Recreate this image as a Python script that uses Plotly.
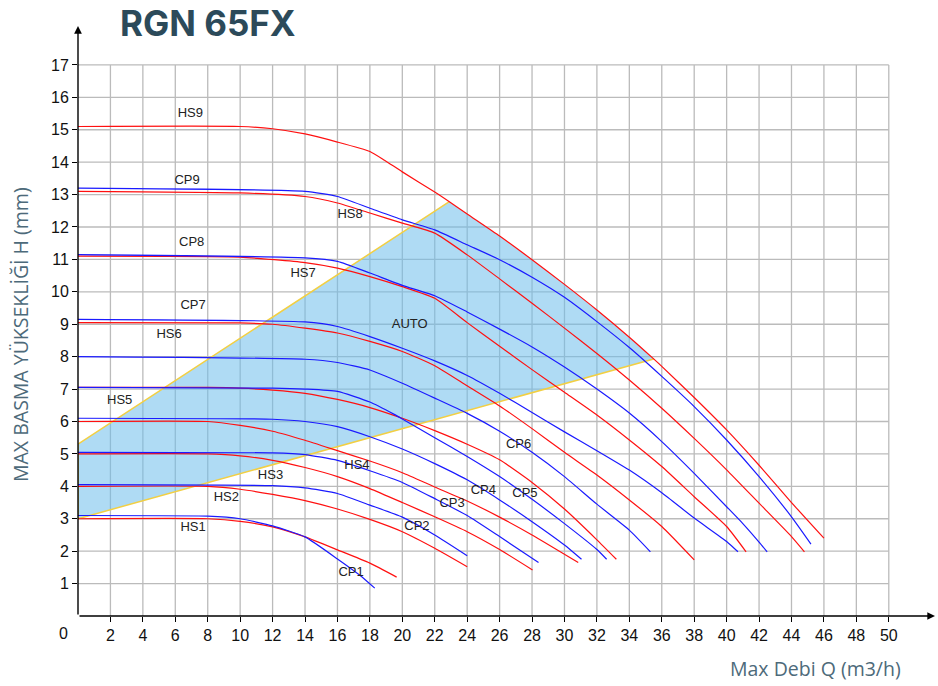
import plotly.graph_objects as go

# ---------------- data (Q in m3/h, H in m) ----------------
HS1_Q = [0, 8, 10, 12, 14, 16, 18, 19.65]
HS1_H = [3.0, 3.0, 2.92, 2.75, 2.44, 2.04, 1.63, 1.2]
CP1_Q = [0, 8, 10, 12, 14, 16, 17.4, 18.3]
CP1_H = [3.1, 3.08, 3.0, 2.78, 2.44, 1.76, 1.25, 0.86]

HS2_Q = [0, 8, 10, 12, 14, 16, 18, 20, 22, 24]
HS2_H = [4.0, 4.0, 3.91, 3.75, 3.56, 3.3, 2.98, 2.6, 2.09, 1.52]
CP2_Q = [0, 12, 14, 16, 18, 20, 22, 24]
CP2_H = [4.05, 4.02, 3.95, 3.78, 3.42, 3.05, 2.5, 1.86]

HS3_Q = [0, 8, 10, 12, 14, 16, 18, 20, 22, 24, 26, 28.03]
HS3_H = [5.0, 5.0, 4.94, 4.8, 4.58, 4.3, 3.93, 3.5, 3.06, 2.6, 2.05, 1.42]
CP3_Q = [0, 12, 14, 16, 18, 20, 22, 24, 26, 28.4]
CP3_H = [5.05, 5.03, 4.98, 4.8, 4.48, 4.12, 3.62, 3.1, 2.45, 1.65]

HS4_Q = [0, 8, 10, 12, 14, 16, 18, 20, 22, 24, 26, 28, 30.85]
HS4_H = [6.0, 6.0, 5.88, 5.7, 5.42, 5.1, 4.78, 4.42, 3.98, 3.55, 3.05, 2.5, 1.65]
CP4_Q = [0, 12, 14, 16, 18, 20, 22, 24, 26, 28, 30, 31.05]
CP4_H = [6.1, 6.07, 6.0, 5.84, 5.53, 5.15, 4.7, 4.2, 3.58, 2.91, 2.19, 1.75]

HS5_Q = [0, 8, 10, 12, 14, 16, 18, 20, 22, 24, 26, 28, 30, 32, 33.2]
HS5_H = [7.05, 7.05, 7.03, 6.97, 6.87, 6.68, 6.43, 6.1, 5.72, 5.3, 4.82, 4.12, 3.3, 2.35, 1.75]
CP5_Q = [0, 12, 14, 16, 18, 19.5, 20, 22, 24, 26, 28, 30, 32, 32.6]
CP5_H = [7.05, 7.03, 7.0, 6.93, 6.6, 6.22, 6.08, 5.5, 4.92, 4.3, 3.6, 2.85, 2.05, 1.75]

CP6_Q = [0, 14, 16, 18, 20, 22, 24, 26, 28, 30, 32, 34, 35.3]
CP6_H = [8.0, 7.92, 7.82, 7.59, 7.18, 6.72, 6.25, 5.7, 5.05, 4.3, 3.45, 2.65, 1.98]

HS6_Q = [0, 10, 12, 14, 16, 18, 20, 22, 24, 26, 28, 30, 32, 34, 36, 38]
HS6_H = [9.05, 9.04, 9.0, 8.88, 8.73, 8.47, 8.16, 7.72, 7.1, 6.48, 5.78, 5.05, 4.35, 3.58, 2.76, 1.73]
CP7_Q = [0, 14, 16, 18, 20, 22, 24, 26, 28, 30, 32, 34, 36, 38, 40, 40.7]
CP7_H = [9.15, 9.07, 8.93, 8.62, 8.26, 7.87, 7.42, 6.87, 6.28, 5.68, 5.1, 4.5, 3.8, 3.02, 2.3, 1.98]

HS7_Q = [0, 10, 14, 16, 18, 20, 22, 24, 26, 28, 30, 32, 34, 36, 38, 40, 41.2]
HS7_H = [11.1, 11.07, 10.9, 10.73, 10.47, 10.16, 9.8, 9.05, 8.32, 7.6, 6.9, 6.2, 5.43, 4.61, 3.68, 2.76, 1.98]
CP8_Q = [0, 14, 16, 18, 20, 22, 24, 26, 28, 30, 32, 34, 36, 38, 40, 41, 42, 42.5]
CP8_H = [11.15, 11.05, 10.94, 10.58, 10.2, 9.88, 9.38, 8.85, 8.3, 7.68, 7.0, 6.26, 5.38, 4.4, 3.37, 2.85, 2.28, 1.98]

HS8_Q = [0, 10, 14, 16, 18, 20, 22, 24, 26, 28, 30, 32, 34, 36, 38, 40, 42, 44, 44.8]
HS8_H = [13.1, 13.05, 12.94, 12.74, 12.43, 12.12, 11.81, 11.14, 10.4, 9.65, 8.88, 8.1, 7.28, 6.41, 5.48, 4.51, 3.48, 2.45, 1.98]
CP9_Q = [0, 14, 16, 18, 20, 22, 24, 26, 28, 30, 32, 34, 36, 38, 40, 42, 44, 45.2]
CP9_H = [13.2, 13.1, 12.94, 12.58, 12.22, 11.91, 11.45, 10.99, 10.45, 9.83, 9.08, 8.28, 7.39, 6.46, 5.43, 4.3, 3.06, 2.22]

HS9_Q = [0, 10, 12, 14, 16, 18, 18.9, 20, 22, 22.9, 24, 26, 28, 30, 32, 34, 35.5, 36, 38, 40, 42, 44, 46]
HS9_H = [15.1, 15.1, 15.03, 14.87, 14.62, 14.33, 14.06, 13.7, 13.08, 12.78, 12.4, 11.72, 10.99, 10.23, 9.44, 8.6, 7.93, 7.7, 6.74, 5.74, 4.65, 3.5, 2.4]

# AUTO operating region
AUTO_Q = [0, 0, 22.9, 24, 26, 28, 30, 32, 34, 35.5, 0]
AUTO_H = [3.0, 5.3, 12.78, 12.4, 11.72, 10.99, 10.23, 9.44, 8.6, 7.93, 3.0]
AUTO_UPPER_Q = [0, 0, 22.9]
AUTO_UPPER_H = [3.0, 5.3, 12.78]
AUTO_LOWER_Q = [0, 35.5]
AUTO_LOWER_H = [3.0, 7.93]

# curve labels
LABEL_TEXT = ["HS9", "CP9", "HS8", "CP8", "HS7", "CP7", "AUTO", "HS6", "HS5", "CP6",
              "HS4", "HS3", "CP4", "CP5", "HS2", "CP3", "HS1", "CP2", "CP1"]
LABEL_Q = [6.93, 6.73, 16.78, 7.01, 13.88, 7.1, 20.46, 5.62, 2.57, 27.17,
           17.2, 11.87, 25.0, 27.56, 9.15, 23.07, 7.1, 20.9, 16.84]
LABEL_H = [15.49, 13.44, 12.38, 11.52, 10.56, 9.57, 8.98, 8.67, 6.65, 5.28,
           4.64, 4.33, 3.87, 3.77, 3.66, 3.46, 2.71, 2.76, 1.34]

X_TICKS = list(range(2, 51, 2))
Y_TICKS = list(range(1, 18))
X_MAX, Y_MAX = 52.85, 18.2
GRID_X_MAX, GRID_Y_MAX = 50, 17

TITLE = "RGN 65FX"
X_TITLE = "Max Debi Q (m3/h)"
Y_TITLE = "MAX BASMA YÜKSEKLİĞİ H (mm)"

RED = "#ff1010"
BLUE = "#1a1aff"

# pixel layout of the plot area
L, R, T, B = 78, 935, 26, 616
W, H = R - L, B - T


def px(x):
    return (x - L) / W


def py(y):
    return (B - y) / H


# ---------------- figure ----------------
fig = go.Figure()

fig.add_trace(go.Scatter(x=AUTO_Q, y=AUTO_H, mode="lines", fill="toself",
                         fillcolor="rgba(110,190,235,0.55)", line=dict(width=0),
                         hoverinfo="skip"))
for q, h in [(AUTO_UPPER_Q, AUTO_UPPER_H), (AUTO_LOWER_Q, AUTO_LOWER_H)]:
    fig.add_trace(go.Scatter(x=q, y=h, mode="lines",
                             line=dict(color="#f2cf43", width=1.5), hoverinfo="skip"))

curves = [
    (HS1_Q, HS1_H, RED), (CP1_Q, CP1_H, BLUE),
    (HS2_Q, HS2_H, RED), (CP2_Q, CP2_H, BLUE),
    (HS3_Q, HS3_H, RED), (CP3_Q, CP3_H, BLUE),
    (HS4_Q, HS4_H, RED), (CP4_Q, CP4_H, BLUE),
    (HS5_Q, HS5_H, RED), (CP5_Q, CP5_H, BLUE),
    (CP6_Q, CP6_H, BLUE),
    (HS6_Q, HS6_H, RED), (CP7_Q, CP7_H, BLUE),
    (HS7_Q, HS7_H, RED), (CP8_Q, CP8_H, BLUE),
    (HS8_Q, HS8_H, RED), (CP9_Q, CP9_H, BLUE),
    (HS9_Q, HS9_H, RED),
]
for q, h, c in curves:
    fig.add_trace(go.Scatter(x=q, y=h, mode="lines",
                             line=dict(color=c, width=1.2, shape="spline", smoothing=0.5),
                             hoverinfo="skip"))

fig.add_trace(go.Scatter(x=LABEL_Q, y=LABEL_H, mode="text", text=LABEL_TEXT,
                         textfont=dict(family="Liberation Sans, Arial", size=13, color="#222"),
                         hoverinfo="skip"))

shapes = []
for xv in X_TICKS:
    shapes.append(dict(type="line", xref="x", yref="y", x0=xv, x1=xv, y0=0, y1=GRID_Y_MAX,
                       line=dict(color="#bbbbbb", width=1.3), layer="below"))
for yv in Y_TICKS:
    shapes.append(dict(type="line", xref="x", yref="y", x0=0, x1=GRID_X_MAX, y0=yv, y1=yv,
                       line=dict(color="#bbbbbb", width=1.3), layer="below"))

annotations = [
    dict(x=X_MAX, y=0, ax=0, ay=0, xref="x", yref="y", axref="x", ayref="y", text="",
         showarrow=True, arrowhead=2, arrowsize=1.1, arrowwidth=1.4, arrowcolor="black", standoff=0),
    dict(x=0, y=Y_MAX, ax=0, ay=0, xref="x", yref="y", axref="x", ayref="y", text="",
         showarrow=True, arrowhead=2, arrowsize=1.1, arrowwidth=1.4, arrowcolor="black", standoff=0),
    dict(x=px(63), y=py(633), xref="paper", yref="paper", text="0", showarrow=False,
         xanchor="center", yanchor="middle",
         font=dict(family="Liberation Sans, Arial", size=16, color="#111")),
    dict(x=px(208), y=py(23), xref="paper", yref="paper", text="<b>" + TITLE + "</b>",
         showarrow=False, xanchor="center", yanchor="middle",
         font=dict(family="Inter, Open Sans", size=35, color="#2c4a5a")),
    dict(x=px(815), y=py(668), xref="paper", yref="paper", text=X_TITLE,
         showarrow=False, xanchor="center", yanchor="middle",
         font=dict(family="Open Sans, Inter", size=19.5, color="#4d6a7a")),
    dict(x=px(20), y=py(335), xref="paper", yref="paper", text=Y_TITLE,
         textangle=-90, showarrow=False, xanchor="center", yanchor="middle",
         font=dict(family="Open Sans, Inter", size=19.5, color="#4d6a7a")),
]

tickfont = dict(family="Liberation Sans, Arial", size=16, color="#111")
FIG_W, FIG_H = 938, 686
fig.update_layout(
    width=FIG_W, height=FIG_H,
    margin=dict(l=L, r=FIG_W - R, t=T, b=FIG_H - B, autoexpand=False),
    plot_bgcolor="white", paper_bgcolor="white",
    showlegend=False,
    hovermode=False,
    shapes=shapes,
    annotations=annotations,
    xaxis=dict(range=[0, X_MAX], tickmode="array", tickvals=X_TICKS, ticks="outside",
               ticklen=5, tickcolor="black", showgrid=False, zeroline=False, showline=False,
               tickfont=tickfont, fixedrange=True, automargin=False),
    yaxis=dict(range=[0, Y_MAX], tickmode="array", tickvals=Y_TICKS, ticks="outside",
               ticklen=5, tickcolor="black", showgrid=False, zeroline=False, showline=False,
               tickfont=tickfont, fixedrange=True, automargin=False),
)

fig.write_html("out.html",
               config={"displayModeBar": False, "staticPlot": True},
               post_script="document.body.style.margin='0px';document.body.style.overflow='hidden';")
